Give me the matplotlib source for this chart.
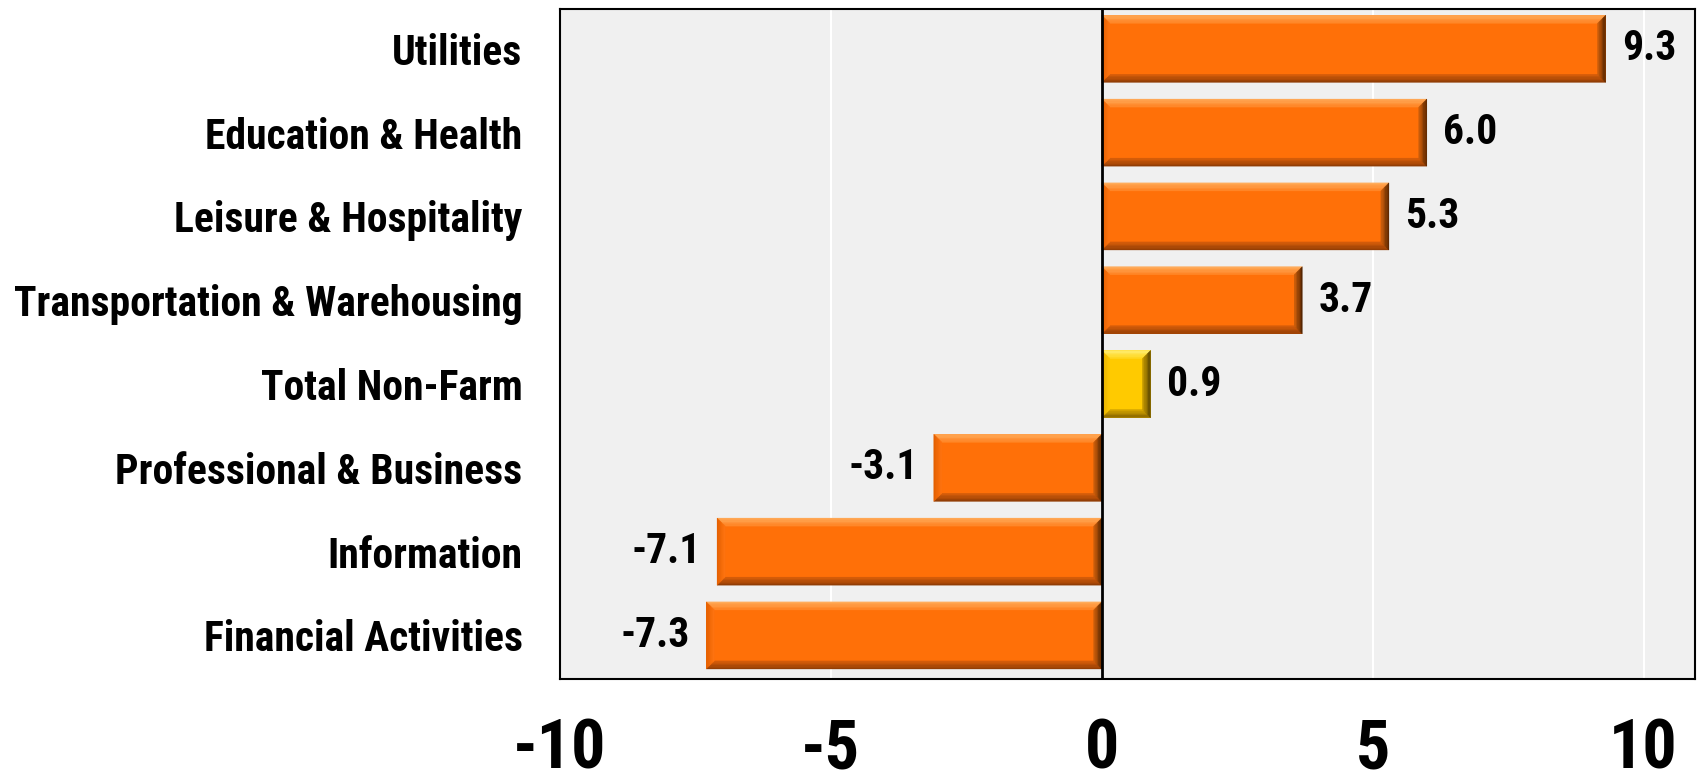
import matplotlib
matplotlib.use("Agg")
import matplotlib.pyplot as plt
from matplotlib.patches import Polygon
from matplotlib.colors import to_rgb
from matplotlib import font_manager

categories = ["Financial Activities", "Information", "Professional & Business",
              "Total Non-Farm", "Transportation & Warehousing",
              "Leisure & Hospitality", "Education & Health", "Utilities"]
values = [-7.3, -7.1, -3.1, 0.9, 3.7, 5.3, 6.0, 9.3]
highlight = "Total Non-Farm"
xticks = [-10, -5, 0, 5, 10]

names = {f.name for f in font_manager.fontManager.ttflist}
fam = [n for n in ["Roboto Condensed", "PT Sans Narrow", "Liberation Sans", "DejaVu Sans"] if n in names]
plt.rcParams['font.family'] = fam

fig = plt.figure(figsize=(17, 7.82), dpi=100)
ax = fig.add_axes([560/1700, 1 - 679/782, (1695-560)/1700, (679-9)/782])
ax.set_facecolor("#F0F0F0")
ax.set_xlim(-10, 10.95)
ax.set_ylim(-0.52, 7.475)

for gx in [-5, 5, 10]:
    ax.axvline(gx, color="white", lw=1.5, zorder=0)
ax.axvline(0, color="black", lw=2, zorder=5)

ypos = list(range(len(categories)))
bh = 0.8
palette = {
    "orange": dict(main="#FF7008",
                   top=("#FFB060", "#FF8424"), bottom=("#8A3A05", "#D85E0A"),
                   left=("#E25E00", "#FF7410"), right=("#4A2000", "#D0600C")),
    "gold": dict(main="#FFCA00",
                 top=("#FFF07A", "#FFD61C"), bottom=("#7E5E00", "#D8A800"),
                 left=("#E0AE00", "#FFC800"), right=("#4E3C00", "#C89C00")),
}

bars = ax.barh(ypos, values, height=bh, zorder=3,
               color=[palette["gold" if c == highlight else "orange"]["main"] for c in categories],
               edgecolor="none")

fig.canvas.draw()
p0 = ax.transData.transform((0, 0))
p1 = ax.transData.transform((1, 1))
bw = 8
dx = bw / (p1[0] - p0[0])
dy = bw / (p1[1] - p0[1])
nsteps = 6


def mix(c1, c2, t):
    a, b = to_rgb(c1), to_rgb(c2)
    return tuple(a[i] + (b[i] - a[i]) * t for i in range(3))


for c, b in zip(categories, bars):
    pal = palette["gold" if c == highlight else "orange"]
    xa, xb = b.get_x(), b.get_x() + b.get_width()
    x0, x1 = min(xa, xb), max(xa, xb)
    y0 = b.get_y()
    y1 = y0 + b.get_height()
    for i in range(nsteps):
        ta, tb = i / nsteps, (i + 1) / nsteps
        tm = (i + 0.5) / nsteps
        bands = {
            "top": [(x0 + dx*ta, y1 - dy*ta), (x1 - dx*ta, y1 - dy*ta),
                    (x1 - dx*tb, y1 - dy*tb), (x0 + dx*tb, y1 - dy*tb)],
            "bottom": [(x0 + dx*ta, y0 + dy*ta), (x1 - dx*ta, y0 + dy*ta),
                       (x1 - dx*tb, y0 + dy*tb), (x0 + dx*tb, y0 + dy*tb)],
            "left": [(x0 + dx*ta, y0 + dy*ta), (x0 + dx*ta, y1 - dy*ta),
                     (x0 + dx*tb, y1 - dy*tb), (x0 + dx*tb, y0 + dy*tb)],
            "right": [(x1 - dx*ta, y0 + dy*ta), (x1 - dx*ta, y1 - dy*ta),
                      (x1 - dx*tb, y1 - dy*tb), (x1 - dx*tb, y0 + dy*tb)],
        }
        for key, pts in bands.items():
            col = mix(pal[key][0], pal[key][1], tm)
            ax.add_patch(Polygon(pts, closed=True, facecolor=col, edgecolor=col,
                                 lw=0.3, zorder=4))

for y, v in zip(ypos, values):
    off = 0.3
    ax.text(v + off if v >= 0 else v - off, y, f"{v:.1f}",
            ha="left" if v >= 0 else "right", va="center", fontsize=30,
            fontweight="bold", color="black", zorder=6)

ax.set_yticks(ypos)
ax.set_yticklabels(categories, fontsize=30, fontweight="bold")
ax.set_xticks(xticks)
ax.set_xticklabels([str(t) for t in xticks], fontsize=49, fontweight="bold")
ax.tick_params(axis="y", length=0, pad=27)
ax.tick_params(axis="x", length=0, pad=28)
for s in ax.spines.values():
    s.set_color("black")
    s.set_linewidth(1.5)

fig.savefig("out.png", dpi=100, facecolor="white")
